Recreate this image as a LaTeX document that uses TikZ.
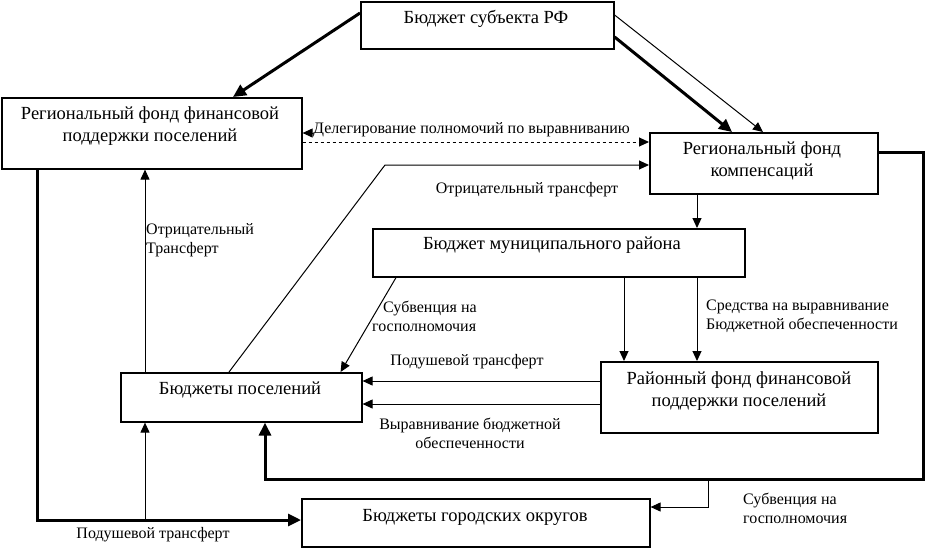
\documentclass[tikz,border=0pt]{standalone}
\usepackage{fontspec}
\setmainfont{Liberation Serif}
\usetikzlibrary{arrows.meta,calc}
\begin{document}
\begin{tikzpicture}[x=1pt,y=-1pt,
 box/.style={draw, line width=1.6pt, anchor=north west, inner sep=0pt},
 btxt/.style={font=\fontsize{18.5}{22}\selectfont, align=center, inner sep=0pt},
 lbl/.style={font=\fontsize{16}{19}\selectfont, align=left, inner sep=0pt},
 thinarr/.style={line width=1pt, -{Triangle[length=10pt,width=9pt]}},
 thickarr/.style={line width=3pt, -{Triangle[length=13pt,width=12pt]}},
]
\useasboundingbox (0,0) rectangle (926,547);
% boxes
\node[box, minimum width=253, minimum height=47] (A) at (360,1) {};
\node[box, minimum width=300, minimum height=71] (B) at (1,97) {};
\node[box, minimum width=228, minimum height=61] (C) at (649,132) {};
\node[box, minimum width=372, minimum height=48] (D) at (372,228) {};
\node[box, minimum width=277, minimum height=71] (E) at (600,361) {};
\node[box, minimum width=241, minimum height=49] (F) at (120,372) {};
\node[box, minimum width=348, minimum height=48] (G) at (301,498) {};
% box texts
\node[btxt] (At) at (486,19) {Бюджет субъекта РФ};
\node[btxt] (Bt) at (150,126) {Региональный фонд финансовой\\поддержки поселений};
\node[btxt] (Ct) at (762,161) {Региональный фонд\\компенсаций};
\node[btxt] (Dt) at (552,245) {Бюджет муниципального района};
\node[btxt] (Et) at (739,391) {Районный фонд финансовой\\поддержки поселений};
\node[btxt] (Ft) at (240,390) {Бюджеты поселений};
\node[btxt] (Gt) at (475,517) {Бюджеты городских округов};
% helper coordinates
\coordinate (k1) at (385,165);
\coordinate (k2) at (37,520);
\coordinate (k3) at (145,520);
\coordinate (k5) at (923,479);
\coordinate (k6) at (708,479);
\coordinate (d1) at ($(C.north west)+(0,10)$);
\coordinate (d2) at ($(B.north east)+(10,36)$);
% connectors
\draw[thickarr] ($(A.north west)+(0,12)$) -- ($(B.north west)+(232,0)$);
\draw[thickarr] ($(A.north east)+(0,36)$) -- ($(C.north west)+(83,0)$);
\draw[thinarr] ($(A.north east)+(0,14)$) -- ($(C.north west)+(114,0)$);
\draw[thinarr, dashed] (d1 -| B.east) -- (d1);
\draw[thinarr] (d2) -- (d2 -| B.east);
\draw[thinarr] ($(F.north west)+(109,0)$) -- (k1) -- (k1 -| C.west);
\draw[thinarr] ($(C.south west)+(48,0)$) -- ($(D.north west)+(325,0)$);
\draw[thinarr] ($(D.south west)+(252,0)$) -- ($(E.north west)+(24,0)$);
\draw[thinarr] ($(D.south west)+(325,0)$) -- ($(E.north west)+(97,0)$);
\draw[thinarr] ($(D.south west)+(24,0)$) -- ($(F.north east)+(-22,0)$);
\draw[thinarr] ($(E.north west)+(0,20)$) -- ($(F.north east)+(0,9)$);
\draw[thinarr] ($(E.north west)+(0,43)$) -- ($(F.north east)+(0,32)$);
\draw[thinarr] ($(F.north west)+(25,0)$) -- ($(B.south west)+(144,0)$);
\draw[thickarr] ($(B.south west)+(36,0)$) -- (k2) -- (k2 -| G.west);
\draw[thinarr] (k3) -- ($(F.south west)+(25,0)$);
\draw[thickarr] ($(C.north east)+(0,20)$) -| (k5) -| ($(F.south west)+(145,0)$);
\draw[thinarr] (k6) |- ($(G.north east)+(0,9)$);
% labels
\node[lbl, anchor=west] (L1) at (313,130) {Делегирование полномочий по выравниванию};
\node[lbl] (L2) at (527,190) {Отрицательный трансферт};
\node[lbl, anchor=west] (L3) at (146,240) {Отрицательный\\Трансферт};
\node[lbl, anchor=west] (L4) at (372,316) {\hspace{11pt}Субвенция на\\госполномочия};
\node[lbl, anchor=west] (L5) at (706,316) {Средства на выравнивание\\Бюджетной обеспеченности};
\node[lbl] (L6) at (467,362) {Подушевой трансферт};
\node[lbl, align=center] (L7) at (470,433) {Выравнивание бюджетной\\обеспеченности};
\node[lbl] (L8) at (153,535) {Подушевой трансферт};
\node[lbl, anchor=west] (L9) at (743,508) {Субвенция на\\госполномочия};
\end{tikzpicture}
\end{document}
